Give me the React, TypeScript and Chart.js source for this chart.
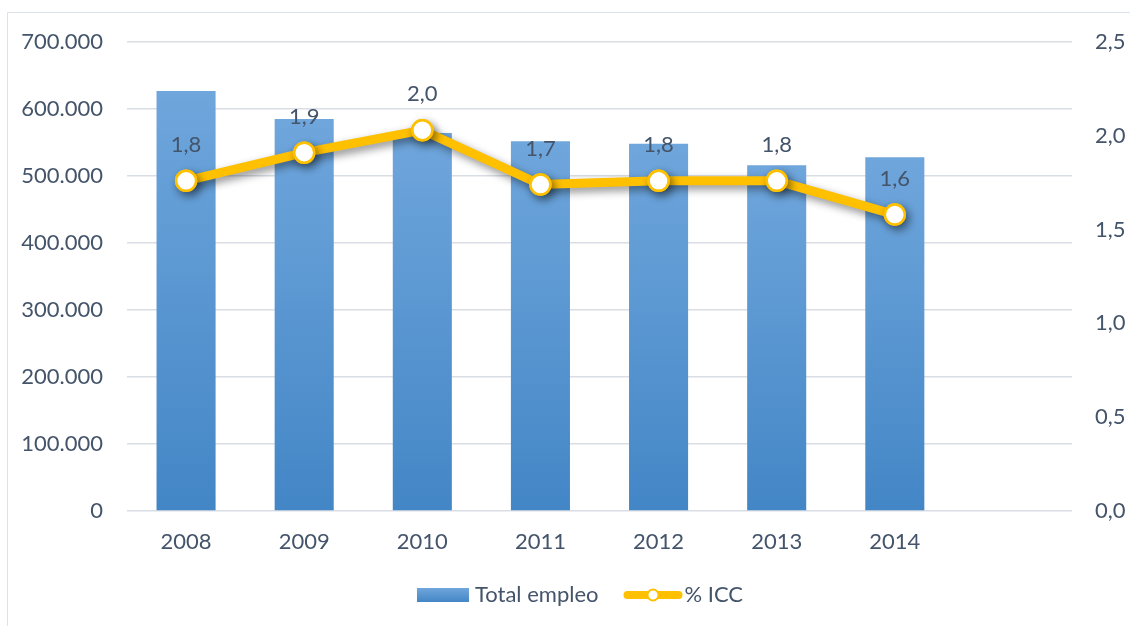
import React, { useEffect, useRef } from "react";
import { Chart, registerables } from "chart.js";

Chart.register(...registerables);

const categories = ["2008", "2009", "2010", "2011", "2012", "2013", "2014", ""];
const totalEmpleo = [627000, 585000, 564000, 552000, 548000, 516000, 528000];
const iccPct = [1.76, 1.91, 2.03, 1.74, 1.76, 1.76, 1.58];
const seriesNames = ["Total empleo", "% ICC"];

const FONT = "Lato";
const FS = 22;
const TEXT = "#44546A";
const GRID = "#D9DEE5";
const GOLD = "#FFC000";

const fmtThousands = (v: number) =>
  Math.round(v).toString().replace(/\B(?=(\d{3})+(?!\d))/g, ".");
const fmtDec = (v: number) => v.toFixed(1).replace(".", ",");

function barGradient(ctx: CanvasRenderingContext2D, top: number, bottom: number) {
  const g = ctx.createLinearGradient(0, top, 0, bottom);
  g.addColorStop(0, "#6FA6DC");
  g.addColorStop(1, "#4386C6");
  return g;
}

export default function App() {
  const ref = useRef<HTMLCanvasElement | null>(null);

  useEffect(() => {
    const canvas = ref.current;
    if (!canvas) return;

    const framePlugin = {
      id: "frame",
      beforeDraw(chart: any) {
        const ctx = chart.ctx;
        ctx.save();
        ctx.fillStyle = "#FFFFFF";
        ctx.fillRect(0, 0, chart.width, chart.height);
        ctx.strokeStyle = "#DCE2EA";
        ctx.lineWidth = 1;
        ctx.beginPath();
        ctx.moveTo(7.5, chart.height);
        ctx.lineTo(7.5, 12.5);
        ctx.lineTo(chart.width, 12.5);
        ctx.stroke();
        ctx.restore();
      },
    };

    const shadowPlugin = {
      id: "lineShadow",
      beforeDatasetDraw(chart: any, args: any) {
        if (chart.data.datasets[args.index].type !== "line") return;
        const ctx = chart.ctx;
        ctx.save();
        ctx.shadowColor = "rgba(0,0,0,0.45)";
        ctx.shadowBlur = 8;
        ctx.shadowOffsetX = 3;
        ctx.shadowOffsetY = 4;
      },
      afterDatasetDraw(chart: any, args: any) {
        if (chart.data.datasets[args.index].type !== "line") return;
        const ctx = chart.ctx;
        ctx.restore();
        // redraw markers crisp, without the shadow tinting their fill
        const meta = chart.getDatasetMeta(args.index);
        meta.data.forEach((p: any) => p.draw(ctx, chart.chartArea));
      },
    };

    const labelsPlugin = {
      id: "pointLabels",
      afterDatasetsDraw(chart: any) {
        const ctx = chart.ctx;
        chart.data.datasets.forEach((ds: any, i: number) => {
          if (ds.type !== "line") return;
          const meta = chart.getDatasetMeta(i);
          ctx.save();
          ctx.font = `${FS}px ${FONT}`;
          ctx.fillStyle = TEXT;
          ctx.textAlign = "center";
          ctx.textBaseline = "middle";
          meta.data.forEach((pt: any, j: number) => {
            const v = ds.data[j];
            if (v == null) return;
            ctx.fillText(fmtDec(v), pt.x, pt.y - 36);
          });
          ctx.restore();
        });
      },
    };

    const legendPlugin = {
      id: "customLegend",
      afterDraw(chart: any) {
        const ctx = chart.ctx;
        const cy = 595;
        ctx.save();
        ctx.font = `${FS}px ${FONT}`;
        ctx.textBaseline = "middle";
        ctx.textAlign = "left";
        ctx.fillStyle = TEXT;
        const w1 = ctx.measureText(seriesNames[0]).width;
        const w2 = ctx.measureText(seriesNames[1]).width;
        const total = 52 + 6 + w1 + 25 + 59 + 2 + w2;
        let x = 580 - total / 2;
        ctx.fillStyle = barGradient(ctx, cy - 7, cy + 7);
        ctx.fillRect(x, cy - 7, 52, 14);
        x += 58;
        ctx.fillStyle = TEXT;
        ctx.fillText(seriesNames[0], x, cy);
        x += w1 + 25;
        ctx.strokeStyle = GOLD;
        ctx.lineWidth = 8;
        ctx.lineCap = "round";
        ctx.beginPath();
        ctx.moveTo(x + 4, cy);
        ctx.lineTo(x + 55, cy);
        ctx.stroke();
        ctx.beginPath();
        ctx.arc(x + 29.5, cy, 5.5, 0, Math.PI * 2);
        ctx.fillStyle = "#FFFFFF";
        ctx.fill();
        ctx.lineWidth = 2;
        ctx.stroke();
        x += 61;
        ctx.fillStyle = TEXT;
        ctx.fillText(seriesNames[1], x, cy);
        ctx.restore();
      },
    };

    const chart = new Chart(canvas, {
      data: {
        labels: categories,
        datasets: [
          {
            type: "line",
            label: seriesNames[1],
            data: iccPct,
            yAxisID: "y1",
            borderColor: GOLD,
            borderWidth: 9,
            pointRadius: 10,
            pointHoverRadius: 10,
            pointBorderWidth: 2.5,
            pointBackgroundColor: "#FFFFFF",
            pointBorderColor: GOLD,
            tension: 0,
            order: 0,
          },
          {
            type: "bar",
            label: seriesNames[0],
            data: totalEmpleo,
            yAxisID: "y",
            backgroundColor: (c: any) => {
              const ch = c.chart;
              const ys = ch.scales.y;
              if (!ys || c.raw == null) return "#5B9BD5";
              const top = ys.getPixelForValue(c.raw);
              const bottom = ys.getPixelForValue(0);
              if (!isFinite(top) || !isFinite(bottom) || top === bottom) return "#5B9BD5";
              return barGradient(ch.ctx, top, bottom);
            },
            categoryPercentage: 1,
            barPercentage: 0.5,
            order: 1,
          },
        ],
      } as any,
      options: {
        responsive: false,
        animation: false,
        devicePixelRatio: 1,
        layout: { padding: { top: 42, left: 0, right: 0, bottom: 0 } },
        plugins: {
          legend: { display: false },
          tooltip: { enabled: false },
        },
        scales: {
          x: {
            offset: true,
            grid: { display: false, drawTicks: false },
            border: { display: false },
            ticks: {
              color: TEXT,
              font: { family: FONT, size: FS },
              padding: 18,
              maxRotation: 0,
              autoSkip: false,
            },
            afterFit: (s: any) => {
              s.height = 115;
            },
          },
          y: {
            position: "left",
            min: 0,
            max: 700000,
            grid: { color: GRID, lineWidth: 1.5, drawTicks: false },
            border: { display: false },
            ticks: {
              stepSize: 100000,
              color: TEXT,
              font: { family: FONT, size: FS },
              padding: 24,
              callback: (v: any) => fmtThousands(Number(v)),
            },
            afterFit: (s: any) => {
              s.width = 127;
            },
          },
          y1: {
            position: "right",
            min: 0,
            max: 2.5,
            grid: { drawOnChartArea: false, drawTicks: false },
            border: { display: false },
            ticks: {
              stepSize: 0.5,
              color: TEXT,
              font: { family: FONT, size: FS },
              padding: 23,
              callback: (v: any) => fmtDec(Number(v)),
            },
            afterFit: (s: any) => {
              s.width = 58;
            },
          },
        },
      } as any,
      plugins: [framePlugin, shadowPlugin, labelsPlugin, legendPlugin],
    });

    return () => chart.destroy();
  }, []);

  return (
    <div style={{ position: "absolute", left: 0, top: 0, width: 1130, height: 626 }}>
      <canvas ref={ref} width={1130} height={626} style={{ display: "block" }} />
    </div>
  );
}
